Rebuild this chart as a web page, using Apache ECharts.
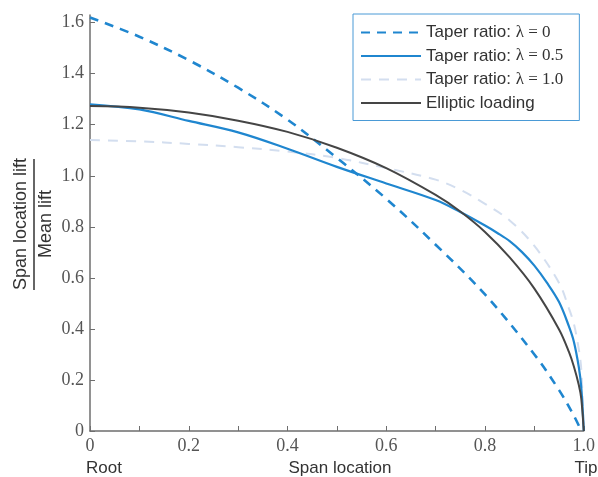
<!DOCTYPE html>
<html>
<head>
<meta charset="utf-8">
<script src="https://cdn.jsdelivr.net/npm/echarts@6/dist/echarts.min.js"></script>
<style>html,body{margin:0;padding:0;background:#fff;}#c{width:598px;height:477px;}</style>
</head>
<body>
<div id="c"></div>
<script>
// Series names
const seriesNames = ['Taper ratio: λ = 0', 'Taper ratio: λ = 0.5', 'Taper ratio: λ = 1.0', 'Elliptic loading'];

// Taper ratio 0
const taper0X = [0, 0.1, 0.2, 0.3, 0.4, 0.5, 0.6, 0.7, 0.8, 0.9, 0.95, 0.98, 0.995];
const taper0Y = [1.62, 1.545, 1.453, 1.345, 1.22, 1.07, 0.91, 0.73, 0.535, 0.30, 0.16, 0.06, 0.0];

// Taper ratio 0.5
const taper05X = [0, 0.1, 0.2, 0.3, 0.4, 0.5, 0.6, 0.7, 0.75, 0.8, 0.825, 0.85, 0.875, 0.9, 0.925, 0.95, 0.97, 0.98, 0.99, 0.995, 1.0];
const taper05Y = [1.28, 1.26, 1.215, 1.17, 1.106, 1.035, 0.97, 0.905, 0.858, 0.805, 0.776, 0.744, 0.701, 0.648, 0.582, 0.505, 0.41, 0.35, 0.25, 0.17, 0];

// Taper ratio 1.0
const taper1X = [0, 0.1, 0.2, 0.3, 0.4, 0.5, 0.6, 0.7, 0.75, 0.8, 0.85, 0.9, 0.95, 0.97, 0.98, 0.99, 0.995, 1.0];
const taper1Y = [1.14, 1.135, 1.125, 1.112, 1.095, 1.07, 1.03, 0.985, 0.945, 0.89, 0.825, 0.725, 0.58, 0.48, 0.42, 0.32, 0.24, 0];

// Elliptic loading
const ellipX = [0, 0.1, 0.2, 0.3, 0.4, 0.5, 0.6, 0.7, 0.75, 0.8, 0.85, 0.9, 0.95, 0.97, 0.98, 0.99, 0.995, 1.0];
const ellipY = [1.273, 1.267, 1.248, 1.216, 1.172, 1.11, 1.03, 0.925, 0.86, 0.78, 0.68, 0.558, 0.398, 0.31, 0.253, 0.18, 0.127, 0];

// Tick values
const xTickValues = [0, 0.1, 0.2, 0.3, 0.4, 0.5, 0.6, 0.7, 0.8, 0.9, 1.0];
const xLabelValues = [0, 0.2, 0.4, 0.6, 0.8, 1.0];
const yTickValues = [0, 0.2, 0.4, 0.6, 0.8, 1.0, 1.2, 1.4, 1.6];

const zip = (xs, ys) => xs.map((x, i) => [x, ys[i]]);
const fmt = v => (v === 0 ? '0' : v.toFixed(1));

const chart = echarts.init(document.getElementById('c'), null, {renderer: 'canvas'});
const blue = '#1f86cf';
const axisColor = '#6e6e6e';
const serif = 'Liberation Serif';
const sans = 'Liberation Sans';

chart.setOption({
  animation: false,
  backgroundColor: '#fff',
  grid: {left: 90, right: 10, top: 15, bottom: 46, containLabel: false},
  legend: {
    orient: 'vertical',
    left: 353, top: 14,
    padding: [10, 16, 9, 7],
    itemWidth: 60, itemHeight: 14, itemGap: 6.5, itemTextGap: 14,
    borderColor: '#4a9ad6', borderWidth: 1, backgroundColor: '#fff',
    itemStyle: {color: 'rgba(0,0,0,0)', borderWidth: 0, opacity: 0},
    data: seriesNames,
    formatter: function (name) {
      if (name.indexOf('λ') >= 0) {
        const parts = name.split('λ');
        return '{a|' + parts[0] + '}{b|λ' + parts[1] + '}';
      }
      return '{a|' + name + '}';
    },
    textStyle: {
      lineHeight: 16,
      rich: {
        a: {fontFamily: sans, fontSize: 17, color: '#333', lineHeight: 16},
        b: {fontFamily: serif, fontSize: 17, color: '#333', lineHeight: 16}
      }
    }
  },
  xAxis: {
    type: 'value', min: 0, max: 1.0, interval: 0.1,
    axisLine: {show: true, onZero: false, lineStyle: {color: axisColor, width: 1.5}},
    axisTick: {show: true, inside: true, length: 5, customValues: xTickValues, lineStyle: {color: axisColor, width: 1}},
    axisLabel: {customValues: xLabelValues, formatter: fmt, margin: 6, fontFamily: serif, fontSize: 18, color: '#555'},
    splitLine: {show: false}
  },
  yAxis: {
    type: 'value', min: 0, max: 1.63, interval: 0.2,
    axisLine: {show: true, onZero: false, lineStyle: {color: axisColor, width: 1.5}},
    axisTick: {show: true, inside: true, length: 5, customValues: yTickValues, lineStyle: {color: axisColor, width: 1}},
    axisLabel: {customValues: yTickValues, formatter: fmt, margin: 6, fontFamily: serif, fontSize: 18, color: '#555'},
    splitLine: {show: false}
  },
  series: [
    {
      name: seriesNames[2], type: 'line', symbol: 'none', smooth: 0.35, z: 1,
      data: zip(taper1X, taper1Y),
      lineStyle: {color: '#d3deef', width: 2, type: [10, 8]},
      itemStyle: {color: '#d3deef'}
    },
    {
      name: seriesNames[0], type: 'line', symbol: 'none', smooth: 0.35, z: 2,
      data: zip(taper0X, taper0Y),
      lineStyle: {color: blue, width: 2.6, type: [9, 7]},
      itemStyle: {color: blue}
    },
    {
      name: seriesNames[1], type: 'line', symbol: 'none', smooth: 0.35, z: 3,
      data: zip(taper05X, taper05Y),
      lineStyle: {color: blue, width: 2.2},
      itemStyle: {color: blue}
    },
    {
      name: seriesNames[3], type: 'line', symbol: 'none', smooth: 0.35, z: 4,
      data: zip(ellipX, ellipY),
      lineStyle: {color: '#454545', width: 2},
      itemStyle: {color: '#454545'}
    }
  ],
  graphic: [
    {type: 'text', x: 21, y: 224, rotation: Math.PI / 2,
      style: {text: 'Span location lift', fontFamily: sans, fontSize: 18, fill: '#333', textAlign: 'center', textVerticalAlign: 'middle'}},
    {type: 'line', shape: {x1: 34, y1: 159, x2: 34, y2: 290}, style: {stroke: '#333', lineWidth: 1.5}},
    {type: 'text', x: 46, y: 224, rotation: Math.PI / 2,
      style: {text: 'Mean lift', fontFamily: sans, fontSize: 18, fill: '#333', textAlign: 'center', textVerticalAlign: 'middle'}},
    {type: 'text', x: 104, y: 468,
      style: {text: 'Root', fontFamily: sans, fontSize: 17, fill: '#333', textAlign: 'center', textVerticalAlign: 'middle'}},
    {type: 'text', x: 340, y: 468,
      style: {text: 'Span location', fontFamily: sans, fontSize: 17, fill: '#333', textAlign: 'center', textVerticalAlign: 'middle'}},
    {type: 'text', x: 586, y: 468,
      style: {text: 'Tip', fontFamily: sans, fontSize: 17, fill: '#333', textAlign: 'center', textVerticalAlign: 'middle'}}
  ]
});
</script>
</body>
</html>
